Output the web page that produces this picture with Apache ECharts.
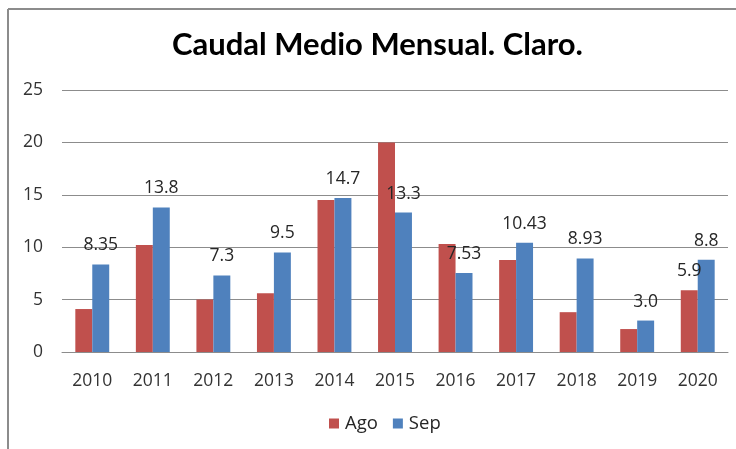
<!DOCTYPE html>
<html><head><meta charset="utf-8">
<script src="https://cdn.jsdelivr.net/npm/echarts@6/dist/echarts.min.js"></script>
<style>html,body{margin:0;padding:0;background:#fff}#c{width:736px;height:449px}</style>
</head><body><div id="c"></div>
<script>
const categories = ['2010','2011','2012','2013','2014','2015','2016','2017','2018','2019','2020'];
const agoValues = [4.1, 10.2, 5.0, 5.6, 14.5, 20.0, 10.3, 8.77, 3.8, 2.19, 5.9];
const sepValues = [8.35, 13.8, 7.3, 9.5, 14.7, 13.3, 7.53, 10.43, 8.93, 3.0, 8.8];
const agoLabels = ['', '', '', '', '', '', '', '', '', '', '5.9'];
const sepLabels = ['8.35', '13.8', '7.3', '9.5', '14.7', '13.3', '7.53', '10.43', '8.93', '3.0', '8.8'];
const yTicks = [0, 5, 10, 15, 20, 25];

const F = 'Open Sans';
const chart = echarts.init(document.getElementById('c'), null, {renderer: 'canvas'});
chart.setOption({
  animation: false,
  backgroundColor: '#fff',
  title: {
    text: 'Caudal Medio Mensual. Claro.',
    left: 167, top: 24,
    textStyle: {fontFamily: 'Lato', fontWeight: 'bold', fontSize: 31, color: '#000'}
  },
  legend: {
    bottom: 16, left: 329, padding: 0,
    itemWidth: 10, itemHeight: 10, itemGap: 15,
    icon: 'rect',
    textStyle: {fontFamily: F, fontSize: 18.5, color: '#262626', padding: [0,0,0,1]},
    data: ['Ago', 'Sep']
  },
  grid: {left: 62, right: 8, top: 90, bottom: 97, containLabel: false},
  xAxis: {
    type: 'category', data: categories,
    axisLine: {lineStyle: {color: '#8c8c8c', width: 1}},
    axisTick: {show: false},
    axisLabel: {fontFamily: F, fontSize: 17.5, color: '#333', margin: 20}
  },
  yAxis: {
    type: 'value', min: 0, max: 25, interval: 5,
    axisLine: {show: false}, axisTick: {show: false},
    splitLine: {lineStyle: {color: '#8c8c8c', width: 1}},
    axisLabel: {fontFamily: F, fontSize: 17.5, color: '#333', margin: 19,
      formatter: v => yTicks.includes(v) ? String(v) : ''}
  },
  series: [
    {name: 'Ago', type: 'bar', data: agoValues, barGap: '0%', barCategoryGap: '44%',
     itemStyle: {color: '#C0504D'},
     label: {show: true, position: 'top', distance: 10, fontFamily: F, fontSize: 17.5, color: '#262626',
       formatter: p => agoLabels[p.dataIndex]}},
    {name: 'Sep', type: 'bar', data: sepValues, barGap: '0%', barCategoryGap: '44%',
     itemStyle: {color: '#4F81BD'},
     label: {show: true, position: 'top', distance: 10, fontFamily: F, fontSize: 17.5, color: '#262626',
       formatter: p => sepLabels[p.dataIndex]}}
  ],
  graphic: [
    {type: 'line', shape: {x1: 8, y1: 9, x2: 736, y2: 9}, style: {stroke: '#8c8c8c', lineWidth: 2}, silent: true},
    {type: 'line', shape: {x1: 8, y1: 9, x2: 8, y2: 449}, style: {stroke: '#8c8c8c', lineWidth: 2}, silent: true}
  ]
});
</script></body></html>
